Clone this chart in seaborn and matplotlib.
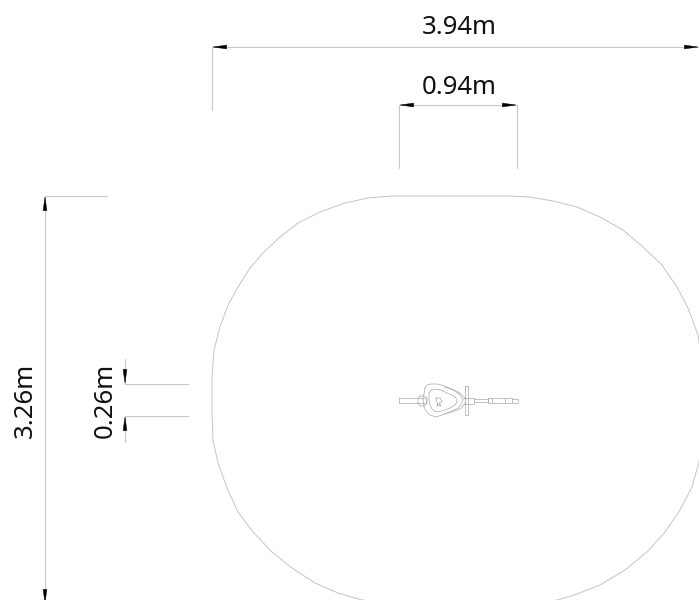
import matplotlib
matplotlib.use("Agg")
import matplotlib.pyplot as plt
import seaborn as sns

# everything in pixel units
outline_x = [392, 368, 345, 320, 298, 280, 263, 250, 238, 228, 220, 214, 212, 212,
             212, 213, 218, 227, 238, 253, 272, 292, 315, 338, 362, 392,
             526, 558, 577, 600, 625, 647, 665, 680, 692, 699, 703, 706,
             703, 698, 688, 677, 662, 643, 623, 600, 577, 553, 530, 510, 392]
outline_y = [196, 198, 203, 212, 223, 237, 253, 268, 287, 305, 327, 350, 377, 399,
             413, 440, 463, 488, 512, 532, 552, 568, 583, 593, 600, 604,
             604, 600, 594, 585, 570, 552, 532, 510, 487, 462, 440, 398,
             365, 335, 308, 287, 265, 247, 230, 217, 207, 201, 197, 196, 196]

dim_lines = [
    ([212, 699], [47, 47]),
    ([212, 212], [47, 110]),
    ([399, 517], [105, 105]),
    ([399, 399], [105, 168]),
    ([517, 517], [105, 168]),
    ([45, 45], [196, 600]),
    ([45, 107], [196, 196]),
    ([125, 125], [359, 384]),
    ([125, 188], [384, 384]),
    ([125, 125], [416, 442]),
    ([125, 188], [416, 416]),
]

# arrow: base x, base y, tip x, tip y
arrows = [
    (225, 47, 212, 47),
    (686, 47, 699, 47),
    (412, 105, 399, 105),
    (505, 105, 517, 105),
    (45, 209, 45, 196),
    (45, 592, 45, 604),
    (125, 372, 125, 384),
    (125, 429, 125, 416),
]

labels = ["3.94m", "0.94m", "3.26m", "0.26m"]
label_x = [459, 459, 25, 105]
label_y = [28, 87, 400, 400]
label_rot = [0, 0, 90, 90]

# small equipment in the middle
seat_outer_x = [425, 427, 431, 437, 445, 455, 461, 463, 462, 458, 450, 442, 436, 430, 426, 424, 423, 425]
seat_outer_y = [388, 385, 384, 384, 386, 391, 396, 400, 403, 408, 412, 415, 417, 415, 411, 407, 400, 388]
seat_inner_x = [429, 431, 435, 441, 447, 454, 456, 457, 455, 450, 442, 436, 432, 430, 429, 429]
seat_inner_y = [393, 390, 389, 390, 393, 396, 398, 402, 405, 408, 411, 412, 409, 405, 400, 393]
star_x = [436, 440, 442, 439, 441, 437, 438, 436]
star_y = [398, 398, 402, 403, 406, 404, 406, 398]
back_x = [444, 452, 460, 464, 466]
back_y = [387, 389, 393, 397, 400]
front_x = [444, 452, 460, 464, 466]
front_y = [414, 412, 409, 405, 402]
parts = [
    ([399, 426, 426, 399, 399], [398, 398, 403, 403, 398]),
    ([420, 424, 427, 427, 424, 420, 418, 418, 420], [396, 396, 398, 403, 406, 406, 403, 398, 396]),
    ([465, 468, 468, 465, 465], [386, 386, 415, 415, 386]),
    ([463, 474, 474, 463], [398, 398, 404, 404]),
    ([474, 488, 488, 474], [399, 399, 402, 402]),
    ([488, 512, 512, 488, 488], [398, 398, 403, 403, 398]),
    ([492, 492], [398, 403]),
    ([505, 505], [398, 403]),
    ([512, 518, 518, 512], [399, 399, 403, 403]),
    (seat_outer_x, seat_outer_y),
    (seat_inner_x, seat_inner_y),
    (star_x, star_y),
    (back_x, back_y),
    (front_x, front_y),
]

sns.set_theme(style="white")
plt.rcParams['font.family'] = ['Noto Sans', 'DejaVu Sans']

fig = plt.figure(figsize=(6.99, 6.0), dpi=100)
ax = fig.add_axes([0, 0, 1, 1])

sns.lineplot(x=outline_x, y=outline_y, sort=False, estimator=None, color="#c4c4c4", linewidth=0.7, ax=ax)

for xs, ys in dim_lines:
    sns.lineplot(x=xs, y=ys, sort=False, estimator=None, color="#c8c8c8", linewidth=0.8, ax=ax)

for xs, ys in parts:
    sns.lineplot(x=xs, y=ys, sort=False, estimator=None, color="#a0a0a0", linewidth=0.45, ax=ax)

for x0, y0, x1, y1 in arrows:
    ax.annotate("", xy=(x1, y1), xytext=(x0, y0), annotation_clip=False,
                arrowprops=dict(arrowstyle="-|>,head_length=0.95,head_width=0.14", color="black",
                                lw=0.3, shrinkA=0, shrinkB=0, mutation_scale=10))

for txt, x, y, rot in zip(labels, label_x, label_y, label_rot):
    ax.text(x, y, txt, rotation=rot, ha="center", va="center", fontsize=18.5, color="#111111")

ax.set_xlim(0, 699)
ax.set_ylim(600, 0)
ax.axis("off")

fig.savefig("out.png", dpi=100)
